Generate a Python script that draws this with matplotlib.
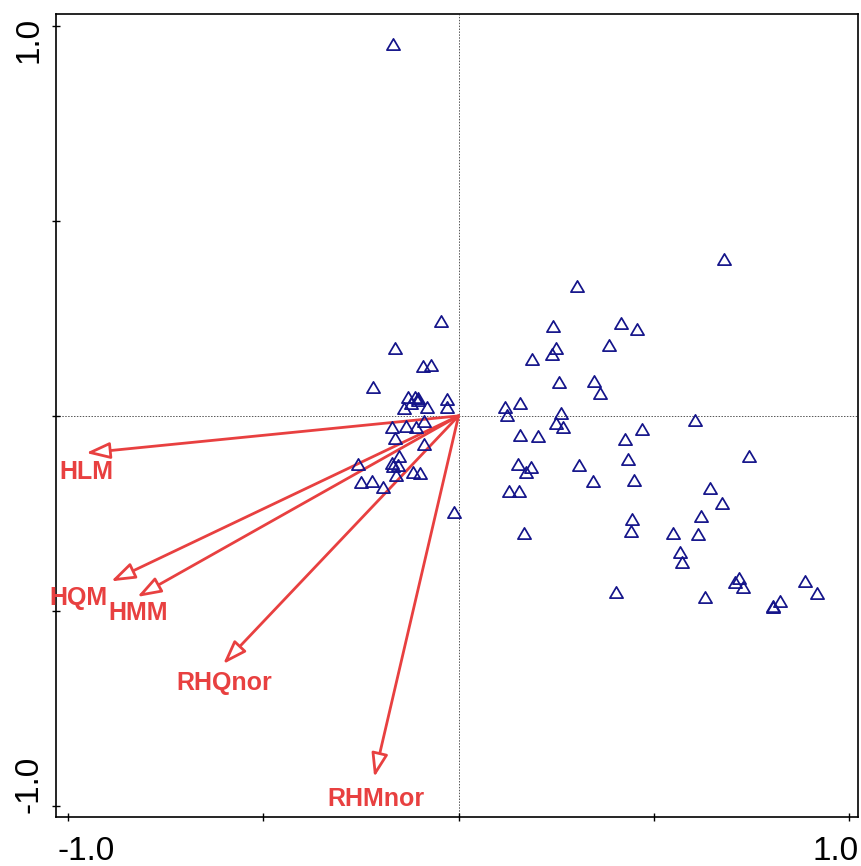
import matplotlib
matplotlib.use("Agg")
import matplotlib.pyplot as plt
from matplotlib.patches import FancyArrowPatch
from matplotlib.path import Path

# sample scores (axis 1, axis 2)
site_x = [
    -0.168, -0.046, -0.164, -0.092, -0.070, -0.218, -0.129, -0.111, -0.104, -0.122,
    -0.103, -0.140, -0.081, -0.029, -0.029, -0.170, -0.134, -0.110, -0.088, -0.164,
    -0.088, -0.258, -0.152, -0.170, -0.156, -0.167, -0.159, -0.117, -0.098, -0.250,
    -0.222, -0.193, -0.011,
    0.303, 0.243, 0.416, 0.457, 0.250, 0.239, 0.187, 0.385, 0.257, 0.346,
    0.361, 0.118, 0.158, 0.123, 0.262, 0.250, 0.268, 0.157, 0.203, 0.469,
    0.425, 0.151, 0.186, 0.172, 0.309, 0.435, 0.344, 0.450, 0.129, 0.154,
    0.444, 0.441, 0.168, 0.548, 0.680, 0.605, 0.743, 0.645, 0.674, 0.620,
    0.613, 0.568, 0.571, 0.718, 0.708, 0.728, 0.402, 0.630, 0.886, 0.919,
    0.823, 0.806, 0.805,
]
site_y = [
    0.953, 0.244, 0.173, 0.129, 0.130, 0.075, 0.049, 0.049, 0.045, 0.032,
    0.041, 0.019, 0.024, 0.043, 0.024, -0.028, -0.025, -0.029, -0.012, -0.056,
    -0.073, -0.124, -0.102, -0.122, -0.126, -0.128, -0.152, -0.143, -0.146, -0.170,
    -0.166, -0.181, -0.246,
    0.333, 0.230, 0.239, 0.222, 0.173, 0.159, 0.147, 0.181, 0.087, 0.089,
    0.058, 0.024, 0.032, 0.002, 0.007, -0.017, -0.028, -0.048, -0.052, -0.034,
    -0.060, -0.123, -0.130, -0.145, -0.127, -0.111, -0.167, -0.164, -0.192, -0.192,
    -0.264, -0.294, -0.301, -0.299, 0.401, -0.011, -0.102, -0.186, -0.223, -0.257,
    -0.303, -0.349, -0.374, -0.415, -0.427, -0.439, -0.451, -0.465, -0.422, -0.453,
    -0.474, -0.487, -0.489,
]

# environmental variable loadings
env_names = ["HLM", "HQM", "HMM", "RHQnor", "RHMnor"]
env_x = [-0.954, -0.890, -0.823, -0.603, -0.216]
env_y = [-0.095, -0.424, -0.464, -0.636, -0.926]

# label offsets from arrow tips, in pixels
label_offsets = {
    "HLM": (0, -19),
    "HQM": (-33, -17),
    "HMM": (1, -16),
    "RHQnor": (1, -19),
    "RHMnor": (2, -22),
}

ticks = [-1.0, -0.5, 0.0, 0.5, 1.0]
tick_text = {-1.0: "-1.0", 1.0: "1.0"}

RED = "#e84040"
NAVY = "#14148a"
PX = 0.72  # points per pixel at 100 dpi

fig = plt.figure(figsize=(8.61, 8.66), dpi=100)
ax = fig.add_axes([56 / 861, 49 / 866, 802 / 861, 803 / 866])

ax.axhline(0, color="#555555", lw=0.7, ls=(0, (1.5, 1.5)), zorder=1)
ax.axvline(0, color="#555555", lw=0.7, ls=(0, (1.5, 1.5)), zorder=1)

tri = Path([(-1, -0.85), (1, -0.85), (0, 0.85), (-1, -0.85)],
           [Path.MOVETO, Path.LINETO, Path.LINETO, Path.CLOSEPOLY])
ax.plot(site_x, site_y, ls="none", marker=tri, ms=9.5, mfc="none",
        mec=NAVY, mew=1.25, zorder=3)

for name, ex, ey in zip(env_names, env_x, env_y):
    arrow = FancyArrowPatch(
        (0, 0), (ex, ey),
        arrowstyle="-|>,head_length=0.72,head_width=0.25",
        mutation_scale=20, shrinkA=0, shrinkB=0,
        color=RED, fc="white", lw=2.0, zorder=2,
    )
    ax.add_patch(arrow)
    dx, dy = label_offsets[name]
    ax.annotate(name, (ex, ey), xytext=(dx * PX, dy * PX),
                textcoords="offset points", ha="center", va="center",
                color=RED, fontsize=18, fontweight="bold",
                family="Liberation Sans", zorder=4)

ax.set_xlim(-1.031, 1.023)
ax.set_ylim(-1.028, 1.030)

ax.set_xticks(ticks)
ax.set_yticks(ticks)
ax.set_xticklabels([])
ax.set_yticklabels([])
ax.tick_params(direction="inout", length=6, width=1.0, color="black")

# end labels sit pulled in towards the middle of each axis
for v, s in tick_text.items():
    shift = -13 if v > 0 else 18
    ax.annotate(s, (v, 0), xycoords=("data", "axes fraction"),
                xytext=(shift * PX, -43 * PX), textcoords="offset points",
                ha="center", va="baseline", fontsize=24,
                family="Liberation Sans", annotation_clip=False)
    shift = -14 if v > 0 else 22
    ax.annotate(s, (0, v), xycoords=("axes fraction", "data"),
                xytext=(-19 * PX, shift * PX), textcoords="offset points",
                ha="center", va="baseline", rotation=90,
                rotation_mode="anchor", fontsize=24,
                family="Liberation Sans", annotation_clip=False)

for sp in ax.spines.values():
    sp.set_linewidth(1.2)

fig.savefig("out.png", dpi=100)
